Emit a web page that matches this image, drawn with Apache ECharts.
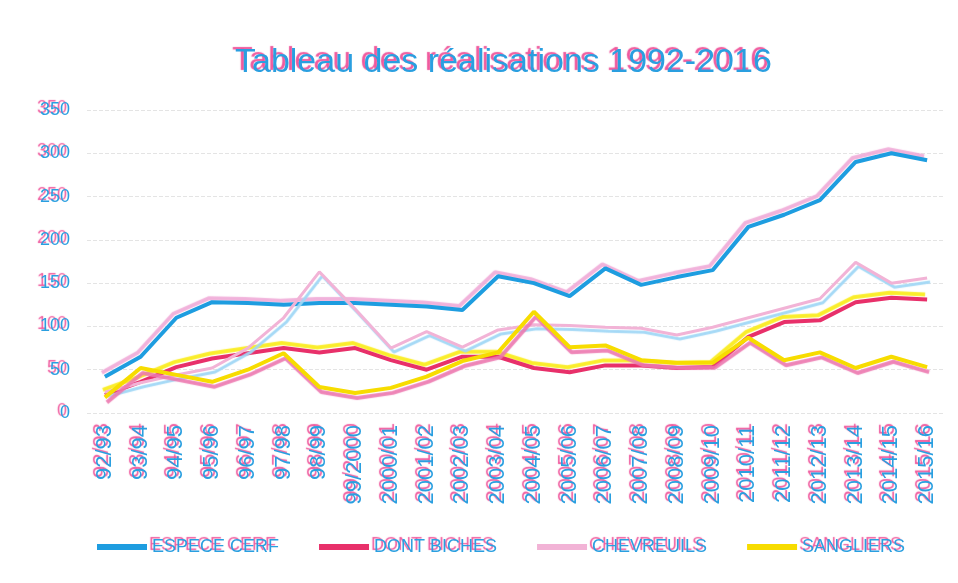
<!DOCTYPE html>
<html>
<head>
<meta charset="utf-8">
<script src="https://cdn.jsdelivr.net/npm/echarts@6/dist/echarts.min.js"></script>
<style>html,body{margin:0;padding:0;background:#fff}#c{width:958px;height:583px}</style>
</head>
<body>
<div id="c"></div>
<script>
var categories = ['92/93','93/94','94/95','95/96','96/97','97/98','98/99','99/2000','2000/01','2001/02','2002/03','2003/04','2004/05','2005/06','2006/07','2007/08','2008/09','2009/10','2010/11','2011/12','2012/13','2013/14','2014/15','2015/16'];
var especeCerf = [42,65,110,128,127,125,127,127,125,123,119,158,150,135,167,148,157,165,215,229,246,290,300,292];
var dontBiches = [21,36,53,63,69,75,70,75,61,50,65,65,52,47,55,55,52,53,88,105,107,128,133,131];
var chevreuils = [24,35,44,52,75,110,163,120,75,94,76,96,102,101,99,98,90,99,110,121,132,174,150,156];
var sangliers = [18,52,44,36,50,69,30,23,29,42,60,70,117,76,78,61,58,58,87,61,70,52,65,53];
var seriesNames = ['ESPECE CERF','DONT BICHES','CHEVREUILS','SANGLIERS'];
var yTicks = [0,50,100,150,200,250,300,350];

var FONT = 'Liberation Sans';
var txt = {color:'#2a9fe0', fontFamily:FONT, textShadowColor:'rgba(236,60,140,0.85)', textShadowOffsetX:-3, textShadowOffsetY:-2, textShadowBlur:1};

function mk(name, data, color, shColor, ox, oy, w){
  return {name:name, type:'line', data:data, symbol:'none', smooth:false,
    lineStyle:{color:color, width:w, shadowColor:shColor, shadowOffsetX:ox, shadowOffsetY:oy, shadowBlur:1},
    itemStyle:{color:color}};
}

var chart = echarts.init(document.getElementById('c'));
chart.setOption({
  animation:false,
  backgroundColor:'#fff',
  title:{text:'Tableau des réalisations 1992-2016', left:230, top:41,
    textStyle:Object.assign({fontSize:34, fontWeight:'normal'}, txt)},
  grid:{left:87, right:13, top:110, bottom:170},
  legend:{bottom:22, left:92, icon:'rect', itemWidth:50, itemHeight:6, itemGap:40, data:seriesNames,
    textStyle:Object.assign({fontSize:18}, txt)},
  xAxis:{type:'category', data:categories, boundaryGap:true,
    axisLine:{show:false}, axisTick:{show:false},
    axisLabel:Object.assign({rotate:90, fontSize:22, margin:12, interval:0}, txt)},
  yAxis:{type:'value', min:0, max:350, interval:50,
    axisLine:{show:false}, axisTick:{show:false},
    axisLabel:Object.assign({fontSize:18, margin:17, formatter:function(v){return yTicks.indexOf(v)>=0?String(v):'';}}, txt),
    splitLine:{lineStyle:{color:'#e4e4e4', type:'dashed', width:1}}},
  series:[
    mk(seriesNames[0], especeCerf, '#1e9de0', 'rgba(240,170,215,0.9)', -3, -4, 4),
    mk(seriesNames[1], dontBiches, '#e8306a', 'rgba(250,235,20,0.9)', -2, -5, 4),
    mk(seriesNames[2], chevreuils, '#f2b3d6', 'rgba(160,215,245,0.95)', 3, 4, 3),
    mk(seriesNames[3], sangliers, '#f7dc00', 'rgba(236,120,175,0.9)', 2, 5, 4)
  ]
});
</script>
</body>
</html>
